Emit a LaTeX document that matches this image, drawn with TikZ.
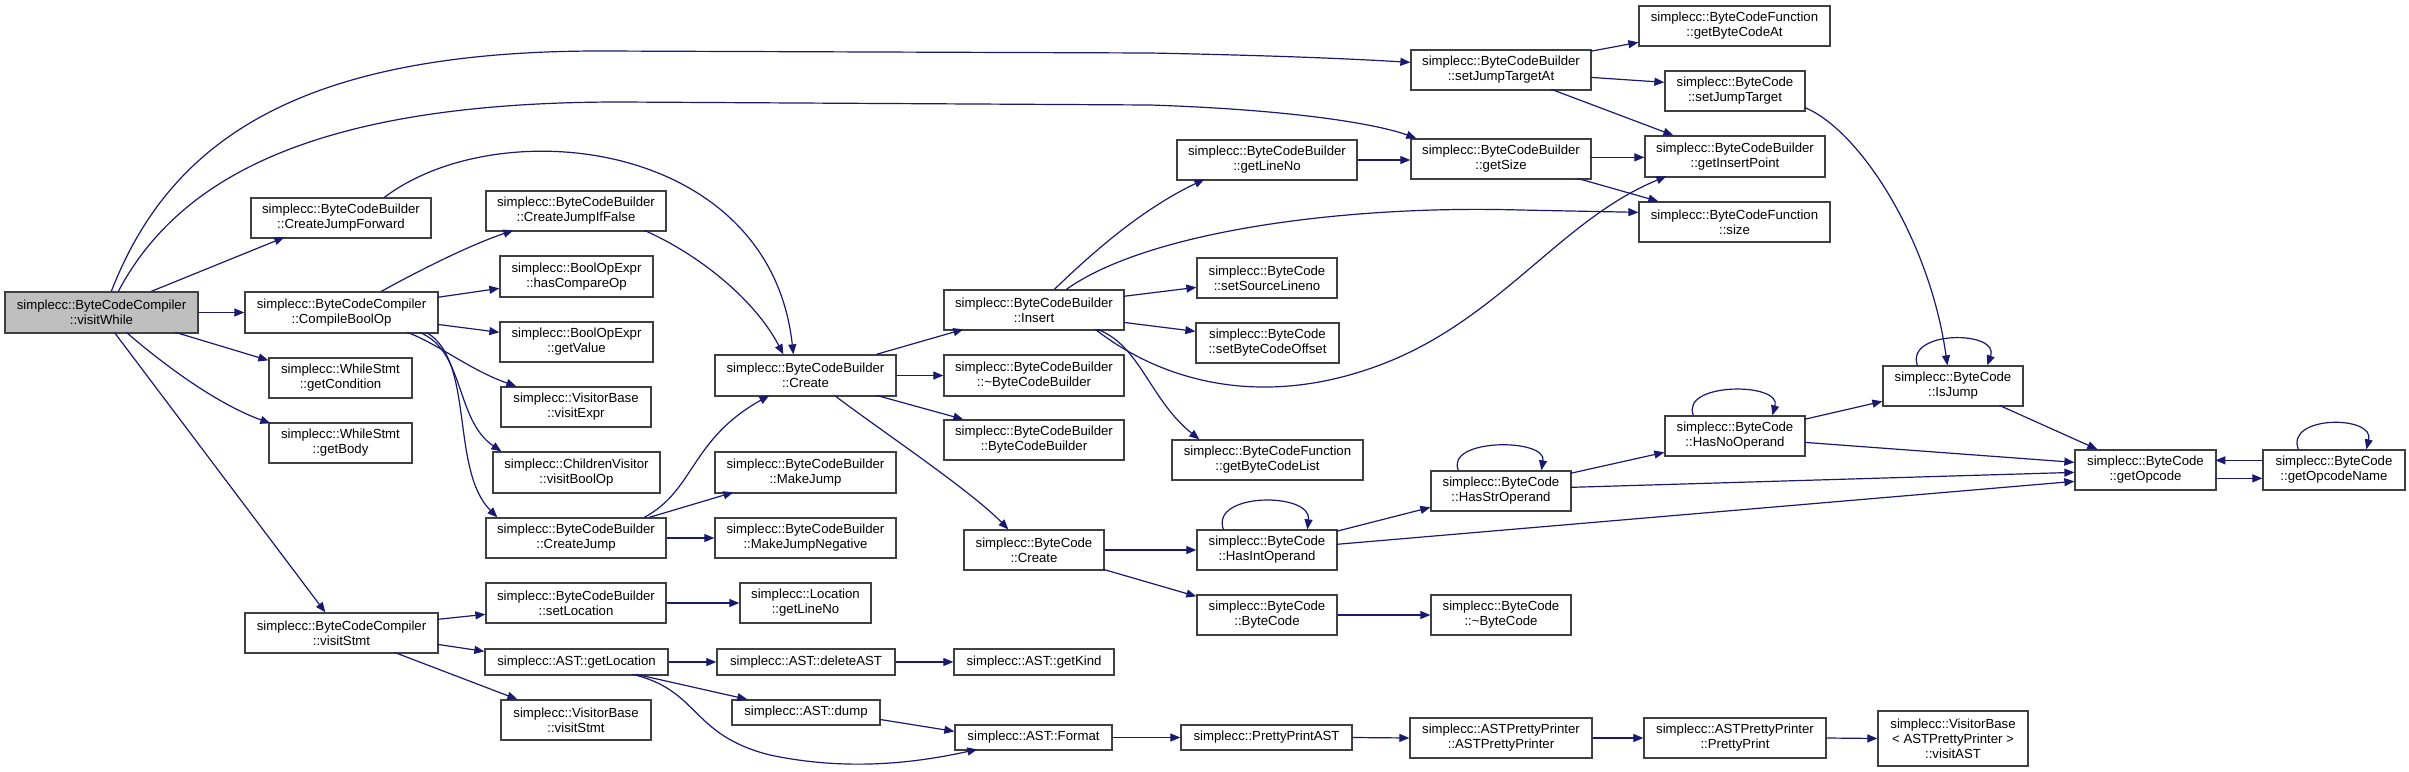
\documentclass[tikz,border=0pt]{standalone}
\usepackage{fontspec}
\setmainfont{Liberation Sans}
\usetikzlibrary{arrows.meta,calc}
\definecolor{edgec}{HTML}{191970}
\definecolor{boxc}{HTML}{404040}
\definecolor{grayf}{HTML}{BFBFBF}
\tikzset{
 bx/.style={draw=boxc, line width=1.3pt, fill=white, align=center, inner sep=0pt, font=\fontsize{13.2}{15}\selectfont},
 e/.style={draw=edgec, line width=1.2pt, -{Triangle[length=10pt,width=8pt]}},
}
\newcommand\mkbox[7][]{\pgfmathsetmacro\mkw{#5-#3}\pgfmathsetmacro\mkh{#6-#4}\pgfmathsetmacro\mkx{(#3+#5)/2}\pgfmathsetmacro\mky{(#4+#6)/2}\node[bx,#1, minimum width=\mkw pt, minimum height=\mkh pt] (#2) at (\mkx,\mky) {#7};}
\begin{document}
\begin{tikzpicture}[x=1pt,y=-1pt]
\useasboundingbox[fill=white] (0,0) rectangle (2409,771);
% nodes
\mkbox[fill=grayf]{vw}{5}{292}{198}{333}{simplecc::ByteCodeCompiler\\::visitWhile}
\mkbox{cjf}{251}{198}{431}{238}{simplecc::ByteCodeBuilder\\::CreateJumpForward}
\mkbox{cbo}{245}{292}{438}{333}{simplecc::ByteCodeCompiler\\::CompileBoolOp}
\mkbox{gcond}{269}{358}{412}{398}{simplecc::WhileStmt\\::getCondition}
\mkbox{gbody}{269}{423}{412}{463}{simplecc::WhileStmt\\::getBody}
\mkbox{vstmt}{245}{613}{438}{653}{simplecc::ByteCodeCompiler\\::visitStmt}
\mkbox{cjif}{486}{191}{666}{231}{simplecc::ByteCodeBuilder\\::CreateJumpIfFalse}
\mkbox{hco}{500}{256}{653}{297}{simplecc::BoolOpExpr\\::hasCompareOp}
\mkbox{gval}{500}{322}{653}{362}{simplecc::BoolOpExpr\\::getValue}
\mkbox{vexpr}{501}{387}{651}{427}{simplecc::VisitorBase\\::visitExpr}
\mkbox{cvbo}{493}{452}{660}{493}{simplecc::ChildrenVisitor\\::visitBoolOp}
\mkbox{cj}{486}{518}{666}{558}{simplecc::ByteCodeBuilder\\::CreateJump}
\mkbox{sloc}{486}{583}{666}{623}{simplecc::ByteCodeBuilder\\::setLocation}
\mkbox{gloc}{485}{649}{668}{675}{simplecc::AST::getLocation}
\mkbox{vbstmt}{501}{700}{651}{740}{simplecc::VisitorBase\\::visitStmt}
\mkbox{bcbc}{715}{355}{896}{396}{simplecc::ByteCodeBuilder\\::Create}
\mkbox{mj}{715}{452}{896}{493}{simplecc::ByteCodeBuilder\\::MakeJump}
\mkbox{mjn}{715}{518}{896}{558}{simplecc::ByteCodeBuilder\\::MakeJumpNegative}
\mkbox{lgl}{740}{583}{871}{623}{simplecc::Location\\::getLineNo}
\mkbox{del}{717}{649}{895}{675}{simplecc::AST::deleteAST}
\mkbox{dump}{732}{700}{880}{725}{simplecc::AST::dump}
\mkbox{ins}{944}{290}{1124}{330}{simplecc::ByteCodeBuilder\\::Insert}
\mkbox{dtor}{944}{355}{1124}{396}{simplecc::ByteCodeBuilder\\::\textasciitilde ByteCodeBuilder}
\mkbox{bcb}{944}{420}{1124}{460}{simplecc::ByteCodeBuilder\\::ByteCodeBuilder}
\mkbox{bccr}{964}{530}{1104}{570}{simplecc::ByteCode\\::Create}
\mkbox{kind}{954}{649}{1114}{675}{simplecc::AST::getKind}
\mkbox{fmt}{955}{725}{1112}{750}{simplecc::AST::Format}
\mkbox{bgl}{1177}{140}{1357}{180}{simplecc::ByteCodeBuilder\\::getLineNo}
\mkbox{ssl}{1197}{258}{1337}{298}{simplecc::ByteCode\\::setSourceLineno}
\mkbox{sbo}{1196}{323}{1339}{363}{simplecc::ByteCode\\::setByteCodeOffset}
\mkbox{gbcl}{1172}{440}{1363}{480}{simplecc::ByteCodeFunction\\::getByteCodeList}
\mkbox{hio}{1197}{530}{1337}{570}{simplecc::ByteCode\\::HasIntOperand}
\mkbox{bcbc2}{1197}{595}{1337}{635}{simplecc::ByteCode\\::ByteCode}
\mkbox{ppa}{1181}{725}{1352}{750}{simplecc::PrettyPrintAST}
\mkbox{sjta}{1411}{50}{1591}{90}{simplecc::ByteCodeBuilder\\::setJumpTargetAt}
\mkbox{gsz}{1411}{139}{1591}{179}{simplecc::ByteCodeBuilder\\::getSize}
\mkbox{hso}{1431}{471}{1571}{511}{simplecc::ByteCode\\::HasStrOperand}
\mkbox{bcdtor}{1431}{595}{1571}{635}{simplecc::ByteCode\\::\textasciitilde ByteCode}
\mkbox{appc}{1410}{718}{1592}{758}{simplecc::ASTPrettyPrinter\\::ASTPrettyPrinter}
\mkbox{gbca}{1639}{6}{1830}{46}{simplecc::ByteCodeFunction\\::getByteCodeAt}
\mkbox{sjt}{1665}{71}{1805}{111}{simplecc::ByteCode\\::setJumpTarget}
\mkbox{gip}{1645}{136}{1825}{177}{simplecc::ByteCodeBuilder\\::getInsertPoint}
\mkbox{bfs}{1639}{202}{1830}{242}{simplecc::ByteCodeFunction\\::size}
\mkbox{hno}{1665}{416}{1805}{456}{simplecc::ByteCode\\::HasNoOperand}
\mkbox{pp}{1644}{718}{1826}{758}{simplecc::ASTPrettyPrinter\\::PrettyPrint}
\mkbox{isj}{1883}{366}{2023}{406}{simplecc::ByteCode\\::IsJump}
\mkbox{vast}{1878}{711}{2028}{766}{simplecc::VisitorBase\\< ASTPrettyPrinter >\\::visitAST}
\mkbox{gop}{2075}{450}{2216}{490}{simplecc::ByteCode\\::getOpcode}
\mkbox{gopn}{2263}{450}{2405}{490}{simplecc::ByteCode\\::getOpcodeName}
% edges from visitWhile
\draw[e] ($(vw.north west)+(107,0)$) .. controls (170,140) and (300,51) .. (600,51) -- (1150,53) .. controls (1300,56) and (1370,60) .. ($(sjta.north west)+(0,13)$);
\draw[e] ($(vw.north west)+(114,0)$) .. controls (180,175) and (320,102) .. (620,102) -- (1150,105) .. controls (1300,110) and (1380,125) .. ($(gsz.north west)+(6,0)$);
\draw[e] ($(vw.north west)+(147,0)$) -- ($(cjf.north west)+(34,40)$);
\draw[e] (vw.east) -- (cbo.west);
\draw[e] ($(vw.north west)+(171,41)$) -- ($(gcond.north west)+(0,3)$);
\draw[e] ($(vw.north west)+(122,41)$) .. controls (170,370) and (220,405) .. ($(gbody.north west)+(2,1)$);
\draw[e] ($(vw.north west)+(110,41)$) -- ($(vstmt.north west)+(81,0)$);
% CreateJumpForward
\draw[e] ($(cjf.north west)+(134,0)$) .. controls (500,110) and (770,140) .. ($(bcbc.north west)+(79,0)$);
% CompileBoolOp
\draw[e] ($(cbo.north west)+(137,0)$) .. controls (420,270) and (470,245) .. ($(cjif.north west)+(28,40)$);
\draw[e] ($(cbo.north west)+(193,6)$) -- ($(hco.north west)+(0,33)$);
\draw[e] ($(cbo.north west)+(193,33)$) -- ($(gval.north west)+(0,11)$);
\draw[e] ($(cbo.north west)+(163,41)$) .. controls (440,345) and (470,370) .. ($(vexpr.north west)+(16,0)$);
\draw[e] ($(cbo.north west)+(175,41)$) .. controls (465,350) and (455,420) .. ($(cvbo.north west)+(9,0)$);
\draw[e] ($(cbo.north west)+(182,41)$) .. controls (475,360) and (450,470) .. ($(cj.north west)+(12,0)$);
% into Create
\draw[e] ($(cjif.north west)+(159,40)$) .. controls (700,255) and (755,300) .. ($(bcbc.north west)+(69,0)$);
\draw[e] ($(cj.north west)+(159,0)$) .. controls (695,490) and (690,440) .. ($(bcbc.north west)+(55,41)$);
\draw[e] ($(cj.north west)+(164,0)$) -- ($(mj.north west)+(19,41)$);
\draw[e] (cj.east) -- (mjn.west);
% Create
\draw[e] ($(bcbc.north west)+(162,0)$) -- ($(ins.north west)+(20,40)$);
\draw[e] (bcbc.east) -- (dtor.west);
\draw[e] ($(bcbc.north west)+(162,41)$) -- ($(bcb.north west)+(20,0)$);
\draw[e] ($(bcbc.north west)+(120,41)$) .. controls (880,430) and (970,490) .. ($(bccr.north west)+(45,0)$);
% Insert
\draw[e] ($(ins.north west)+(111,0)$) .. controls (1090,255) and (1140,210) .. ($(bgl.north west)+(28,40)$);
\draw[e] ($(ins.north west)+(123,0)$) .. controls (1150,230) and (1350,205) .. (1520,210) -- ($(bfs.north west)+(0,11)$);
\draw[e] ($(ins.north west)+(180,7)$) -- ($(ssl.north west)+(0,30)$);
\draw[e] ($(ins.north west)+(180,33)$) -- ($(sbo.north west)+(0,9)$);
\draw[e] ($(ins.north west)+(152,40)$) .. controls (1160,380) and (1260,410) .. (1380,365) .. controls (1500,320) and (1560,220) .. ($(gip.north west)+(22,41)$);
\draw[e] ($(ins.north west)+(154,40)$) .. controls (1140,345) and (1150,400) .. ($(gbcl.north west)+(28,0)$);
% getLineNo, getSize, setJumpTargetAt
\draw[e] (bgl.east) -- (bgl.east -| gsz.west);
\draw[e] ($(gsz.north west)+(180,19)$) -- ($(gip.north west)+(0,22)$);
\draw[e] ($(gsz.north west)+(167,40)$) -- ($(bfs.north west)+(20,0)$);
\draw[e] ($(sjta.north west)+(180,2)$) -- ($(gbca.north west)+(0,37)$);
\draw[e] ($(sjta.north west)+(180,28)$) -- ($(sjt.north west)+(0,12)$);
\draw[e] ($(sjta.north west)+(141,40)$) -- ($(gip.north west)+(29,0)$);
\draw[e] ($(sjt.north west)+(140,37)$) .. controls (1860,130) and (1930,240) .. ($(isj.north west)+(65,0)$);
% ByteCode::Create
\draw[e] (bccr.east) -- (hio.west);
\draw[e] ($(bccr.north west)+(140,40)$) -- ($(bcbc2.north west)+(0,2)$);
\draw[e] (bcbc2.east) -- (bcdtor.west);
% operand checks
\draw[e] ($(hio.north west)+(27,0)$) .. controls (1210,492) and (1312,492) .. ($(hio.north west)+(111,0)$);
\draw[e] ($(hio.north west)+(140,2)$) -- ($(hso.north west)+(0,37)$);
\draw[e] ($(hio.north west)+(140,15)$) -- ($(gop.north west)+(0,32)$);
\draw[e] ($(hso.north west)+(28,0)$) .. controls (1445,438) and (1547,438) .. ($(hso.north west)+(111,0)$);
\draw[e] ($(hso.north west)+(140,3)$) -- ($(hno.north west)+(0,37)$);
\draw[e] ($(hso.north west)+(140,17)$) -- ($(gop.north west)+(0,23)$);
\draw[e] ($(hno.north west)+(29,0)$) .. controls (1680,382) and (1782,382) .. ($(hno.north west)+(108,0)$);
\draw[e] ($(hno.north west)+(140,4)$) -- ($(isj.north west)+(0,36)$);
\draw[e] ($(hno.north west)+(140,27)$) -- ($(gop.north west)+(0,13)$);
\draw[e] ($(isj.north west)+(35,0)$) .. controls (1905,330) and (2000,330) .. ($(isj.north west)+(105,0)$);
\draw[e] ($(isj.north west)+(117,40)$) -- ($(gop.north west)+(23,0)$);
\draw[e] ($(gop.north west)+(141,29)$) -- ($(gopn.north west)+(0,29)$);
\draw[e] ($(gopn.north west)+(0,11)$) -- ($(gop.north west)+(141,11)$);
\draw[e] ($(gopn.north west)+(36,0)$) .. controls (2285,415) and (2375,415) .. ($(gopn.north west)+(104,0)$);
% visitStmt
\draw[e] ($(vstmt.north west)+(193,7)$) -- ($(sloc.north west)+(0,32)$);
\draw[e] ($(vstmt.north west)+(193,32)$) -- ($(gloc.north west)+(0,3)$);
\draw[e] ($(vstmt.north west)+(150,40)$) -- ($(vbstmt.north west)+(17,0)$);
\draw[e] (sloc.east) -- (lgl.west);
\draw[e] (gloc.east) -- (del.west);
\draw[e] ($(gloc.north west)+(152,26)$) -- ($(dump.north west)+(16,0)$);
\draw[e] ($(gloc.north west)+(148,26)$) .. controls (700,690) and (690,735) .. (770,755) .. controls (850,772) and (920,762) .. ($(fmt.north west)+(23,25)$);
\draw[e] (del.east) -- (kind.west);
\draw[e] ($(dump.north west)+(148,20)$) -- ($(fmt.north west)+(0,7)$);
\draw[e] (fmt.east) -- (ppa.west);
\draw[e] (ppa.east) -- (appc.west);
\draw[e] (appc.east) -- (pp.west);
\draw[e] (pp.east) -- (vast.west);
\end{tikzpicture}
\end{document}
